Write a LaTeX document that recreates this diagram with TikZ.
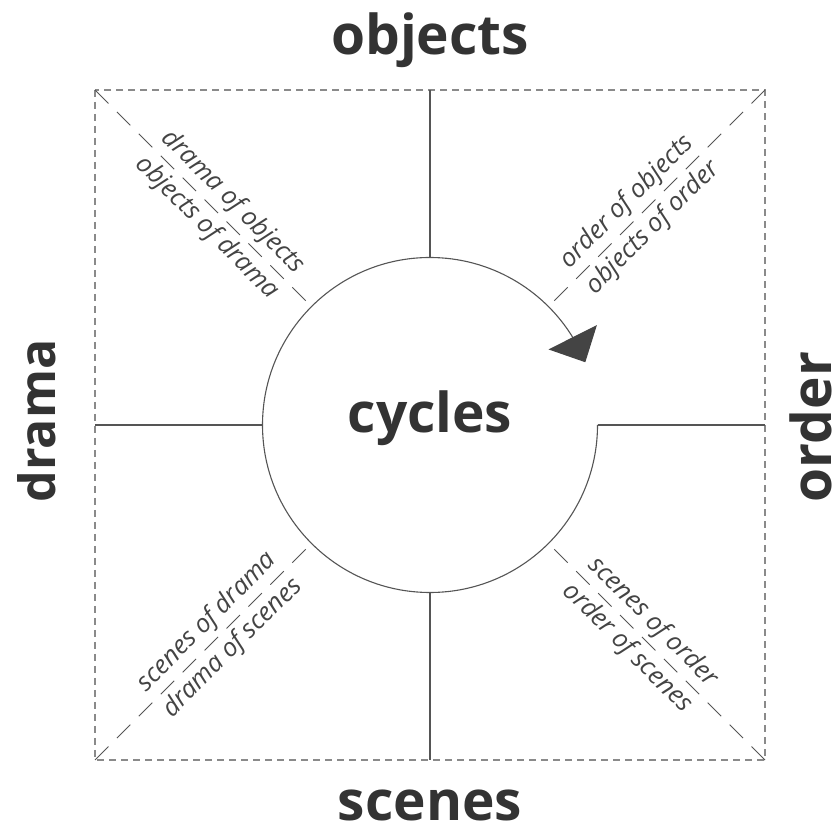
\documentclass[tikz,border=0pt]{standalone}
\usepackage{fontspec}
\setmainfont{Open Sans}
\usetikzlibrary{arrows.meta,bending}
\definecolor{ink}{HTML}{333333}
\definecolor{labc}{HTML}{444444}
\definecolor{linec}{HTML}{555555}
\definecolor{framec}{HTML}{8A8A8A}
\definecolor{tipc}{HTML}{444444}
\begin{document}
\begin{tikzpicture}[x=1pt,y=1pt,
  title/.style={font=\fontsize{55}{64}\selectfont\bfseries, text=ink, inner sep=0pt, text depth=0pt},
  lab/.style={font=\fontsize{25.5}{30}\selectfont\itshape, text=labc, inner sep=0pt},
  axisline/.style={draw=linec, line width=1.1pt},
  frame/.style={draw=framec, line width=1.1pt, dash pattern=on 7pt off 5pt},
  diag/.style={draw=linec, line width=1pt, dash pattern=on 19pt off 12pt},
  ring/.style={draw=linec, line width=1.1pt, -{Triangle[length=28pt,width=54pt,color=tipc]}},
  hub/.style={circle, minimum size=335pt, inner sep=0pt, outer sep=0pt}]
\useasboundingbox (0,0) rectangle (840,832);
\fill[white] (0,0) rectangle (840,832);
% corners and edge midpoints
\coordinate (tl) at (95,742);
\coordinate (tr) at (765,742);
\coordinate (bl) at (95,72);
\coordinate (br) at (765,72);
\coordinate (tm) at (430,742);
\coordinate (bm) at (430,72);
\coordinate (lm) at (95,407);
\coordinate (rm) at (765,407);
% frame
\draw[frame] (tl) rectangle (br);
% hub
\node[hub] (cyc) at (430,407) {};
\node[title, anchor=base] (cyctext) at (430,399) {cycles};
\draw[ring] (cyc.east) arc[start angle=0, end angle=-338, radius=167.5pt];
% axis lines
\draw[axisline] (cyc.north) -- (tm);
\draw[axisline] (cyc.south) -- (bm);
\draw[axisline] (cyc.west) -- (lm);
\draw[axisline] (cyc.east) -- (rm);
% diagonals
\draw[diag] (tl) -- node[pos=0.577, sloped, lab, above=5pt] (l1a) {drama of objects}
                    node[pos=0.577, sloped, lab, below=5pt] (l1b) {objects of drama} (cyc.135);
\draw[diag] (tr) -- node[pos=0.577, sloped, lab, above=5pt] (l2a) {order of objects}
                    node[pos=0.577, sloped, lab, below=5pt] (l2b) {objects of order} (cyc.45);
\draw[diag] (bl) -- node[pos=0.577, sloped, lab, above=5pt] (l3a) {scenes of drama}
                    node[pos=0.577, sloped, lab, below=5pt] (l3b) {drama of scenes} (cyc.225);
\draw[diag] (br) -- node[pos=0.577, sloped, lab, above=5pt] (l4a) {scenes of order}
                    node[pos=0.577, sloped, lab, below=5pt] (l4b) {order of scenes} (cyc.315);
% titles
\node[title, anchor=base] (obj) at (430,777) {objects};
\node[title, anchor=base] (scn) at (430,12) {scenes};
\node[title, anchor=base, rotate=90, font=\fontsize{50}{60}\selectfont\bfseries] (drm) at (55,411) {drama};
\node[title, anchor=base, rotate=90] (ord) at (831,405) {order};
\end{tikzpicture}
\end{document}
